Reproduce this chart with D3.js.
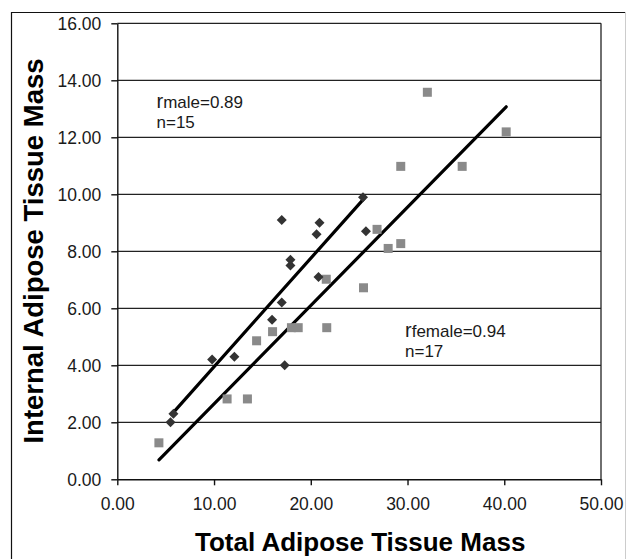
<!DOCTYPE html>
<html><head><meta charset="utf-8">
<script src="https://cdn.jsdelivr.net/npm/d3@7/dist/d3.min.js"></script>
<style>
html,body{margin:0;padding:0;background:#fff;}
svg{display:block;font-family:"Liberation Sans",Arial,sans-serif;}
</style></head>
<body>
<svg id="chart" width="626" height="559"></svg>
<script>
// Data
const maleX = [5.5, 5.8, 9.8, 12.1, 16.0, 17.0, 17.3, 17.9, 17.9, 17.0, 20.8, 20.6, 20.9, 25.7, 25.4];
const maleY = [2.0, 2.3, 4.2, 4.3, 5.6, 6.2, 4.0, 7.5, 7.7, 9.1, 7.1, 8.6, 9.0, 8.7, 9.9];
const femaleX = [4.3, 11.35, 13.45, 14.4, 16.05, 18.0, 18.7, 21.65, 21.6, 25.45, 26.85, 28.0, 29.3, 29.3, 32.05, 35.65, 40.2];
const femaleY = [1.28, 2.82, 2.82, 4.86, 5.18, 5.32, 5.32, 5.32, 7.02, 6.72, 8.77, 8.1, 8.27, 10.98, 13.58, 10.98, 12.19];
const maleLineX = [5.62, 25.5];
const maleLineY = [2.28, 9.85];
const femaleLineX = [4.31, 40.2];
const femaleLineY = [0.68, 13.07];
const xTicks = [0, 10, 20, 30, 40, 50];
const yTicks = [0, 2, 4, 6, 8, 10, 12, 14, 16];
const xTitle = "Total Adipose Tissue Mass";
const yTitle = "Internal Adipose Tissue Mass";
const maleLabel = ["r", "male=0.89", "n=15"];
const femaleLabel = ["r", "female=0.94", "n=17"];

const svg = d3.select("#chart");
const L = 117.3, R = 601, T = 23.3, B = 479.3;
const x = d3.scaleLinear().domain([0, 50]).range([L, R]);
const y = d3.scaleLinear().domain([0, 16]).range([B, T]);

// outer frame
svg.append("line").attr("x1", 11.5).attr("x2", 11.5).attr("y1", 12).attr("y2", 559).attr("stroke", "#111").attr("stroke-width", 1.2);
svg.append("line").attr("x1", 11).attr("x2", 626).attr("y1", 12.5).attr("y2", 12.5).attr("stroke", "#111").attr("stroke-width", 1.2);
svg.append("line").attr("x1", 625.5).attr("x2", 625.5).attr("y1", 12).attr("y2", 559).attr("stroke", "#ccc").attr("stroke-width", 1);

// gridlines
svg.append("g").selectAll("line").data(yTicks.filter(d => d > 0)).join("line")
  .attr("x1", L).attr("x2", R).attr("y1", d => y(d)).attr("y2", d => y(d))
  .attr("stroke", "#222").attr("stroke-width", 1.3);
// right border
svg.append("line").attr("x1", R).attr("x2", R).attr("y1", T).attr("y2", B).attr("stroke", "#222").attr("stroke-width", 1.3);

// axes
const xAxis = d3.axisBottom(x).tickValues(xTicks).tickFormat(d3.format(".2f")).tickSizeInner(6).tickSizeOuter(0).tickPadding(12);
const gx = svg.append("g").attr("transform", `translate(0,${B})`).call(xAxis);
const yAxis = d3.axisLeft(y).tickValues(yTicks).tickFormat(d3.format(".2f")).tickSizeInner(6).tickSizeOuter(0).tickPadding(10);
const gy = svg.append("g").attr("transform", `translate(${L},0)`).call(yAxis);
[gx, gy].forEach(g => {
  g.select(".domain").attr("stroke", "#111").attr("stroke-width", 1.4);
  g.selectAll(".tick line").attr("stroke", "#111").attr("stroke-width", 1.4);
  g.selectAll("text").attr("font-family", "Liberation Sans, Arial, sans-serif").attr("font-size", 17.5).attr("fill", "#1a1a1a");
});
gy.selectAll("text").attr("dy", "0.35em");

// regression lines
const lineGen = d3.line().x(d => x(d[0])).y(d => y(d[1]));
svg.append("path").datum(d3.zip(maleLineX, maleLineY)).attr("d", lineGen)
  .attr("stroke", "#000").attr("stroke-width", 3.2).attr("fill", "none").attr("stroke-linecap", "round");
svg.append("path").datum(d3.zip(femaleLineX, femaleLineY)).attr("d", lineGen)
  .attr("stroke", "#000").attr("stroke-width", 3.2).attr("fill", "none").attr("stroke-linecap", "round");

// female squares
svg.append("g").selectAll("rect").data(d3.zip(femaleX, femaleY)).join("rect")
  .attr("x", d => x(d[0]) - 4.5).attr("y", d => y(d[1]) - 4.5)
  .attr("width", 9).attr("height", 9).attr("fill", "#8a8a8a");
// male diamonds
const diamond = d3.symbol().type(d3.symbolSquare).size(50);
svg.append("g").selectAll("path").data(d3.zip(maleX, maleY)).join("path")
  .attr("d", diamond)
  .attr("transform", d => `translate(${x(d[0])},${y(d[1])}) rotate(45)`)
  .attr("fill", "#333");

// annotations
function annot(lbl, px, py) {
  const t = svg.append("text").attr("x", px).attr("y", py).attr("font-size", 17).attr("fill", "#1a1a1a");
  t.append("tspan").attr("font-size", 20).text(lbl[0]);
  t.append("tspan").text(lbl[1]);
  svg.append("text").attr("x", px).attr("y", py + 20).attr("font-size", 17).attr("fill", "#1a1a1a").text(lbl[2]);
}
annot(maleLabel, 156.5, 108);
annot(femaleLabel, 405, 336.5);

// titles
svg.append("text").attr("x", (L + R) / 2 + 1).attr("y", 551).attr("text-anchor", "middle")
  .attr("font-size", 26).attr("font-weight", "bold").attr("fill", "#000").text(xTitle);
svg.append("text").attr("transform", `translate(43,251) rotate(-90)`).attr("text-anchor", "middle")
  .attr("font-size", 27.5).attr("font-weight", "bold").attr("fill", "#000").text(yTitle);
</script>
</body></html>
